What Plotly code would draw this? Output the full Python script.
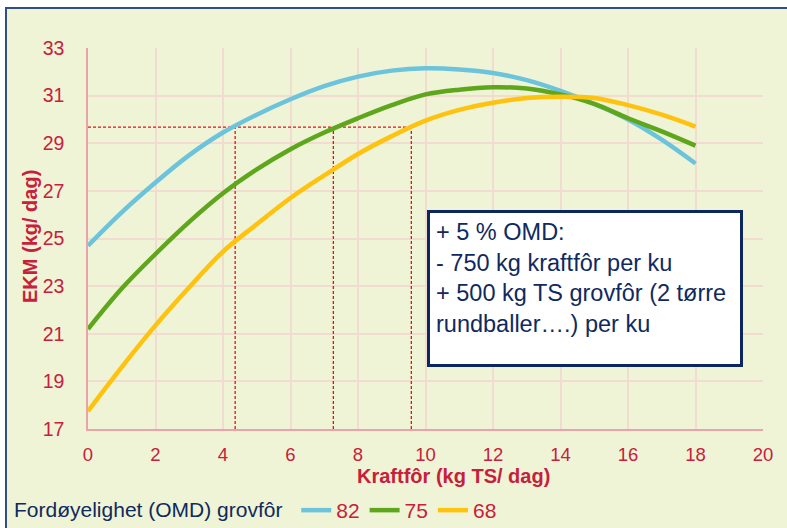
import plotly.graph_objects as go

# ---- data ----
kraftfor = list(range(0, 19))
ekm_82 = [24.7, 26.1, 27.35, 28.5, 29.45, 30.2, 30.85, 31.4, 31.8, 32.05, 32.15,
          32.1, 31.95, 31.65, 31.2, 30.65, 30.0, 29.15, 28.15]
ekm_75 = [21.2, 22.9, 24.35, 25.7, 26.9, 27.9, 28.75, 29.45, 30.05, 30.6, 31.05,
          31.25, 31.35, 31.3, 31.05, 30.65, 30.05, 29.5, 28.9]
ekm_68 = [17.75, 19.6, 21.35, 22.95, 24.45, 25.6, 26.7, 27.65, 28.55, 29.3, 29.95,
          30.4, 30.7, 30.9, 30.95, 30.9, 30.6, 30.2, 29.7]
series_names = ["82", "75", "68"]
series_colors = ["#6cc3dc", "#5ea61c", "#ffc20e"]

ref_level = 29.68          # EKM level of the dashed reference line
ref_cuts = [4.36, 7.27, 9.58]  # kraftfôr where each curve reaches ref_level

x_ticks = list(range(0, 21, 2))
y_ticks = list(range(17, 34, 2))

box_lines = ["+ 5 % OMD:", "- 750 kg kraftfôr per ku",
             "+ 500 kg TS grovfôr (2 tørre", "rundballer….) per ku"]

RED = "#c8203c"
NAVY = "#10295e"
FONT = "Liberation Sans, Arial, sans-serif"

fig = go.Figure()

# dashed reference lines
DASH = dict(color="#e3101a", width=1.3, dash="3px,2px")
fig.add_trace(go.Scatter(x=[0, max(ref_cuts)], y=[ref_level, ref_level], mode="lines",
                         line=DASH, showlegend=False, hoverinfo="skip"))
for xc in ref_cuts:
    fig.add_trace(go.Scatter(x=[xc, xc], y=[y_ticks[0], ref_level], mode="lines",
                             line=DASH, showlegend=False, hoverinfo="skip"))

for name, ys, col in zip(series_names, [ekm_82, ekm_75, ekm_68], series_colors):
    fig.add_trace(go.Scatter(x=kraftfor, y=ys, mode="lines", name=name,
                             line=dict(color=col, width=4.5, shape="spline")))

# frame background
L, R, T, B = 88, 763, 48, 429
W, H = 787, 528
def px_x(p):
    return (p - L) / (R - L)
def px_y(p):
    return (B - p) / (B - T)

fig.add_shape(type="rect", xref="paper", yref="paper",
              x0=px_x(6), x1=px_x(800), y0=px_y(540), y1=px_y(8),
              fillcolor="#eef4d5", line=dict(color="#2f4f86", width=2), layer="below")

fig.add_annotation(xref="paper", yref="paper", x=px_x(427), y=px_y(210),
                   xanchor="left", yanchor="top", showarrow=False,
                   text="<br>".join(box_lines), align="left", valign="top",
                   width=298, height=139, borderpad=6, borderwidth=3,
                   bordercolor="#0c2660", bgcolor="white",
                   font=dict(family=FONT, size=23.5, color=NAVY))

# axis titles
fig.add_annotation(xref="paper", yref="paper", x=px_x(453), y=px_y(476),
                   xanchor="center", yanchor="middle", showarrow=False,
                   text="<b>Kraftfôr (kg TS/ dag)</b>",
                   font=dict(family=FONT, size=20, color=RED))
fig.add_annotation(xref="paper", yref="paper", x=px_x(30), y=px_y(237),
                   xanchor="center", yanchor="middle", showarrow=False, textangle=-90,
                   text="<b>EKM (kg/ dag)</b>",
                   font=dict(family=FONT, size=20, color=RED))

fig.update_layout(
    width=W, height=H,
    margin=dict(l=L, r=W - R, t=T, b=H - B, autoexpand=False),
    paper_bgcolor="white", plot_bgcolor="rgba(0,0,0,0)",
    font=dict(family=FONT, color=RED),
    showlegend=True,
    legend=dict(orientation="h", x=px_x(12), y=px_y(490), xanchor="left", yanchor="top",
                bgcolor="rgba(0,0,0,0)", font=dict(family=FONT, size=21, color=RED),
                title=dict(text="Fordøyelighet (OMD) grovfôr ", side="left",
                           font=dict(family=FONT, size=21, color=NAVY)),
                itemwidth=30, tracegroupgap=0),
    xaxis=dict(range=[0, 20], tickvals=x_ticks, showgrid=True, gridcolor="#f2dccf",
               gridwidth=1.5, showline=True, linecolor="#eaa3a6", linewidth=1.5,
               zeroline=False, ticks="", ticklabelstandoff=8, automargin=False,
               tickfont=dict(family=FONT, size=18.5, color=RED), fixedrange=True),
    yaxis=dict(range=[17, 33], tickvals=y_ticks, showgrid=True, gridcolor="#f2dccf",
               gridwidth=1.5, showline=True, linecolor="#eaa3a6", linewidth=1.5,
               zeroline=False, ticks="", ticklabelstandoff=18, automargin=False,
               tickfont=dict(family=FONT, size=19.5, color=RED), fixedrange=True),
)

fig.write_html("out.html", config={"displayModeBar": False},
               post_script="document.body.style.margin='0';")
